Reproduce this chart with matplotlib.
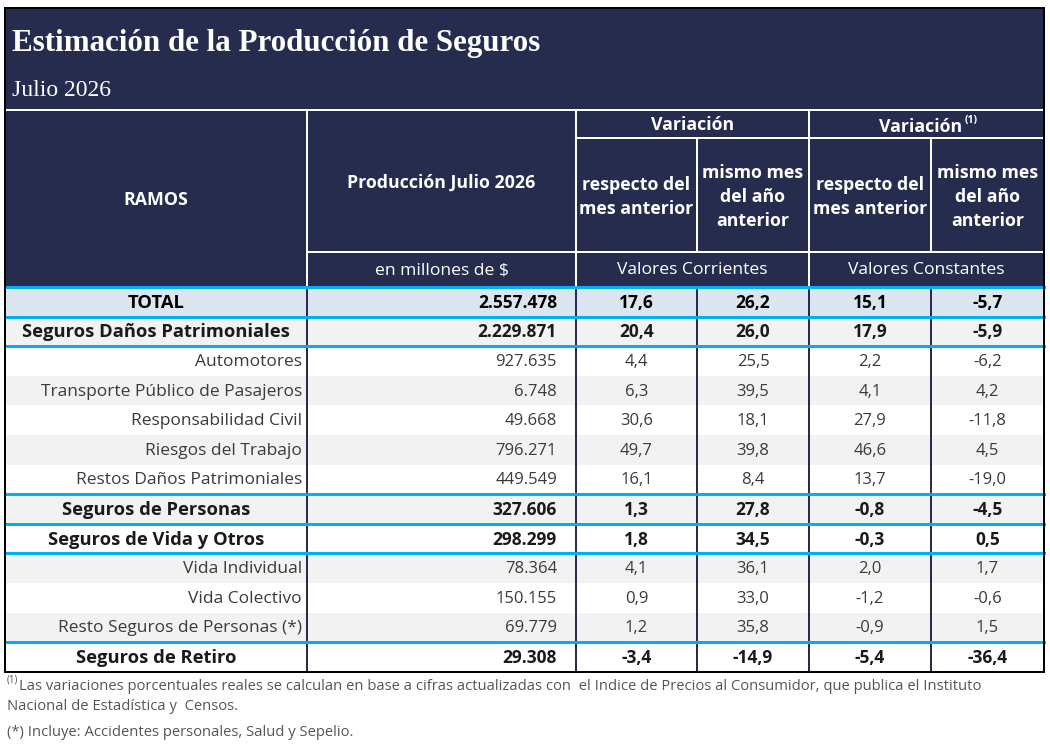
#!/usr/bin/env python
"""
    plot.py:
        - Estimacion de la Produccion de Seguros (tabla)
"""

import matplotlib
matplotlib.use("Agg")
import matplotlib.pyplot as plt
import matplotlib.patches as mpatches

################################################################################
# Datos
################################################################################
ramos = [
    "TOTAL",
    "Seguros Daños Patrimoniales",
    "Automotores",
    "Transporte Público de Pasajeros",
    "Responsabilidad Civil",
    "Riesgos del Trabajo",
    "Restos Daños Patrimoniales",
    "Seguros de Personas",
    "Seguros de Vida y Otros",
    "Vida Individual",
    "Vida Colectivo",
    "Resto Seguros de Personas (*)",
    "Seguros de Retiro",
]
nivel = ["total", "grupo", "det", "det", "det", "det", "det",
         "grupo", "grupo", "det", "det", "det", "grupo"]
produccion = ["2.557.478", "2.229.871", "927.635", "6.748", "49.668", "796.271",
              "449.549", "327.606", "298.299", "78.364", "150.155", "69.779", "29.308"]
var_mes_corr = ["17,6", "20,4", "4,4", "6,3", "30,6", "49,7", "16,1",
                "1,3", "1,8", "4,1", "0,9", "1,2", "-3,4"]
var_anio_corr = ["26,2", "26,0", "25,5", "39,5", "18,1", "39,8", "8,4",
                 "27,8", "34,5", "36,1", "33,0", "35,8", "-14,9"]
var_mes_const = ["15,1", "17,9", "2,2", "4,1", "27,9", "46,6", "13,7",
                 "-0,8", "-0,3", "2,0", "-1,2", "-0,9", "-5,4"]
var_anio_const = ["-5,7", "-5,9", "-6,2", "4,2", "-11,8", "4,5", "-19,0",
                  "-4,5", "0,5", "1,7", "-0,6", "1,5", "-36,4"]
# filas despues de las cuales va una linea celeste
cortes = [0, 1, 6, 7, 8, 11]

titulo = "Estimación de la Producción de Seguros"
subtitulo = "Julio 2026"
nota1 = ("Las variaciones porcentuales reales se calculan en base a cifras actualizadas con  "
         "el Indice de Precios al Consumidor, que publica el Instituto")
nota1b = "Nacional de Estadística y  Censos."
nota2 = "(*) Incluye: Accidentes personales, Salud y Sepelio."

################################################################################
# Estilo
################################################################################
NAVY = "#252C4E"
CELESTE = "#00B0F0"
GRIS = "#F2F2F2"
TOT = "#DCE6F1"
SANS = ["Open Sans", "DejaVu Sans"]
SERIF = ["Liberation Serif", "DejaVu Serif"]
PX = 0.72  # 1 px en puntos

X0, X1 = 5, 1044
cols = [5, 307, 576, 697, 809, 931, 1044]
Y_TOP, Y_LINE, Y_VAR, Y_UNI, Y_DATA = 8, 110, 138, 252, 287
ROW_H = 29.6

fig = plt.figure(figsize=(10.5, 7.5), dpi=100)
ax = fig.add_axes([0, 0, 1, 1])
ax.set_xlim(0, 1050)
ax.set_ylim(750, 0)
ax.axis("off")

# Encabezado oscuro
ax.add_patch(mpatches.Rectangle((X0, Y_TOP), X1 - X0, Y_DATA - Y_TOP, facecolor=NAVY, edgecolor="none", zorder=1))
ax.text(12, 43, titulo, family=SERIF, weight="bold", size=22.3, color="white", va="center", ha="left")
ax.text(12, 91, subtitulo, family=SERIF, size=17, color="white", va="center", ha="left")

wl = dict(color="white", lw=2 * PX, zorder=3)
ax.plot([X0, X1], [Y_LINE, Y_LINE], **wl)
for x in (cols[1], cols[2], cols[4]):
    ax.plot([x, x], [Y_LINE, Y_DATA], **wl)
for x in (cols[3], cols[5]):
    ax.plot([x, x], [Y_VAR, Y_UNI], **wl)
ax.plot([cols[2], X1], [Y_VAR, Y_VAR], **wl)
ax.plot([cols[1], X1], [Y_UNI, Y_UNI], **wl)

hb = dict(family=SANS, weight="bold", size=12.8, color="white", ha="center", va="center", linespacing=1.4, zorder=4)
hn = dict(family=SANS, size=12.6, color="white", ha="center", va="center", zorder=4)
ax.text((cols[0] + cols[1]) / 2, 200, "RAMOS", **hb)
ax.text((cols[1] + cols[2]) / 2, 183, "Producción Julio 2026", **hb)
ax.text((cols[1] + cols[2]) / 2, 270, "en millones de $", **hn)
ax.text((cols[2] + cols[4]) / 2, 125, "Variación", **hb)
ax.text((cols[4] + cols[6]) / 2 - 6, 127, "Variación", **hb)
ax.text((cols[4] + cols[6]) / 2 + 38, 120, "(1)", family=SANS, weight="bold", size=7.5,
        color="white", ha="left", va="center", zorder=4)
for c in (2, 4):
    ax.text((cols[c] + cols[c + 1]) / 2, 197, "respecto del\nmes anterior", **hb)
    ax.text((cols[c + 1] + cols[c + 2]) / 2, 197, "mismo mes\ndel año\nanterior", **hb)
ax.text((cols[2] + cols[4]) / 2, 270, "Valores Corrientes", **hn)
ax.text((cols[4] + cols[6]) / 2, 270, "Valores Constantes", **hn)

################################################################################
# Filas
################################################################################
for i, ramo in enumerate(ramos):
    y = Y_DATA + i * ROW_H
    yc = y + ROW_H / 2 + 1
    if nivel[i] == "total":
        bg = TOT
    elif i % 2 == 1:
        bg = GRIS
    else:
        bg = "white"
    ax.add_patch(mpatches.Rectangle((X0, y), X1 - X0, ROW_H, facecolor=bg, edgecolor="none", zorder=1))

    bold = nivel[i] != "det"
    color = "#000000" if nivel[i] == "total" else ("#1A1A1A" if bold else "#3A3A3A")
    st_lab = dict(family=SANS, va="center", zorder=4, color=color,
                  weight="bold" if bold else "normal", size=13.2 if bold else 12.5)
    st_num = dict(family=SANS, va="center", zorder=4, color=color,
                  weight="bold" if bold else "normal", size=12.5 if bold else 12)
    if bold:
        ax.text((cols[0] + cols[1]) / 2, yc, ramo, ha="center", **st_lab)
    else:
        ax.text(cols[1] - 5, yc, ramo, ha="right", **st_lab)
    ax.text(cols[2] - 19, yc, produccion[i], ha="right", **st_num)
    for j, serie in enumerate([var_mes_corr, var_anio_corr, var_mes_const, var_anio_const]):
        ax.text((cols[2 + j] + cols[3 + j]) / 2, yc, serie[i], ha="center", **st_num)

Y_END = Y_DATA + len(ramos) * ROW_H

# lineas verticales de datos
for x in cols[1:-1]:
    ax.plot([x, x], [Y_DATA, Y_END], color=NAVY, lw=2 * PX, zorder=2)

# lineas celestes
ax.plot([X0, X1], [Y_DATA, Y_DATA], color=CELESTE, lw=3 * PX, zorder=3)
for k in cortes:
    yy = Y_DATA + (k + 1) * ROW_H
    ax.plot([X0, X1], [yy, yy], color=CELESTE, lw=3 * PX, zorder=3)

# marco exterior
ax.add_patch(mpatches.Rectangle((X0, Y_TOP), X1 - X0, Y_END - Y_TOP, facecolor="none",
                                edgecolor="black", lw=2 * PX, zorder=5))

################################################################################
# Notas
################################################################################
nt = dict(family=SANS, size=10.6, color="#555555", ha="left", va="center")
ax.text(7, 680, "(1)", family=SANS, size=7, color="#555555", ha="left", va="center")
ax.text(19, 686, nota1, **nt)
ax.text(7, 707, nota1b, **nt)
ax.text(7, 732, nota2, **nt)

plt.savefig("out.png", dpi=100)
plt.close()
